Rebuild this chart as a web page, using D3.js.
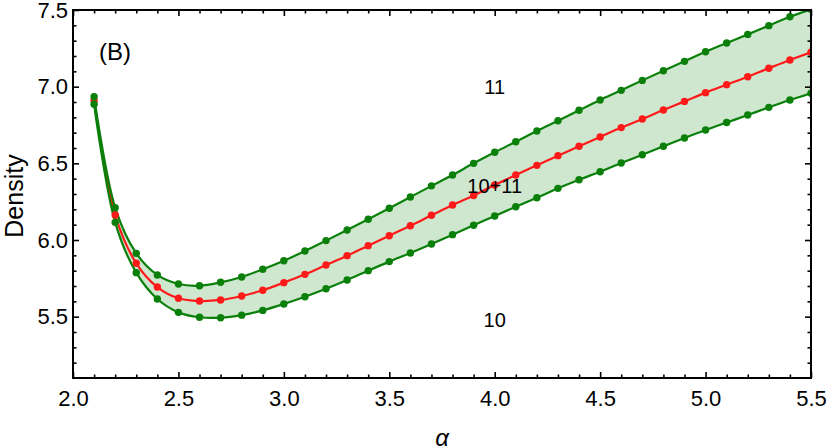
<!DOCTYPE html>
<html>
<head>
<meta charset="utf-8">
<script src="https://cdn.jsdelivr.net/npm/d3@7"></script>
<style>
  body { margin: 0; background: #fff; }
  svg text { font-family: 'Liberation Sans', Arial, sans-serif; fill: #000; }
</style>
</head>
<body>
<div id="chart"></div>
<script>
// alpha values along the x axis
const alpha = [2.1, 2.2, 2.3, 2.4, 2.5, 2.6, 2.7, 2.8, 2.9, 3.0, 3.1, 3.2, 3.3, 3.4, 3.5, 3.6, 3.7, 3.8,
    3.9, 4.0, 4.1, 4.2, 4.3, 4.4, 4.5, 4.6, 4.7, 4.8, 4.9, 5.0, 5.1, 5.2, 5.3, 5.4, 5.5]

// density, upper bound (11)
const density11 = [6.935, 6.211, 5.913, 5.772, 5.713, 5.702, 5.724, 5.759, 5.809, 5.865, 5.928, 5.996,
    6.065, 6.135, 6.207, 6.280, 6.353, 6.424, 6.500, 6.572, 6.641, 6.711, 6.778, 6.846, 6.913, 6.976,
    7.041, 7.104, 7.165, 7.228, 7.285, 7.341, 7.398, 7.456, 7.505]

// density, mixture (10+11)
const density1011 = [6.910, 6.163, 5.848, 5.693, 5.620, 5.602, 5.609, 5.635, 5.672, 5.722, 5.776, 5.837,
    5.898, 5.963, 6.028, 6.093, 6.161, 6.228, 6.290, 6.359, 6.424, 6.487, 6.550, 6.611, 6.672, 6.733,
    6.789, 6.848, 6.904, 6.961, 7.013, 7.065, 7.120, 7.174, 7.224]

// density, lower bound (10)
const density10 = [6.885, 6.115, 5.787, 5.615, 5.528, 5.496, 5.493, 5.510, 5.541, 5.583, 5.630, 5.682,
    5.739, 5.800, 5.859, 5.915, 5.974, 6.035, 6.096, 6.157, 6.217, 6.276, 6.337, 6.393, 6.445, 6.502,
    6.556, 6.611, 6.665, 6.717, 6.766, 6.815, 6.865, 6.913, 6.957]

const xTicks = [2.0, 2.5, 3.0, 3.5, 4.0, 4.5, 5.0, 5.5]
const yTicks = [5.5, 6.0, 6.5, 7.0, 7.5]
const xMinor = [2.1, 2.2, 2.3, 2.4, 2.6, 2.7, 2.8, 2.9, 3.1, 3.2, 3.3, 3.4, 3.6, 3.7, 3.8, 3.9,
    4.1, 4.2, 4.3, 4.4, 4.6, 4.7, 4.8, 4.9, 5.1, 5.2, 5.3, 5.4]
const yMinor = [5.2, 5.3, 5.4, 5.6, 5.7, 5.8, 5.9, 6.1, 6.2, 6.3, 6.4, 6.6, 6.7, 6.8, 6.9, 7.1, 7.2, 7.3, 7.4]

const regionLabels = [
    {text: '11', a: 4.0, d: 7.0},
    {text: '10+11', a: 4.0, d: 6.35},
    {text: '10', a: 4.0, d: 5.48}
]

const width = 830
const height = 448
const margin = {top: 10, right: 19, bottom: 70, left: 73}
const w = width - margin.left - margin.right
const h = height - margin.top - margin.bottom

const green = '#0a800a'
const red = '#ff1a1a'

const svg = d3.select('#chart').append('svg')
    .attr('width', width)
    .attr('height', height)

const x = d3.scaleLinear().domain([2.0, 5.5]).range([0, w])
const y = d3.scaleLinear().domain([5.1, 7.5]).range([h, 0])

svg.append('defs').append('clipPath').attr('id', 'clip')
    .append('rect').attr('width', w).attr('height', h)

const plot = svg.append('g')
    .attr('transform', `translate(${margin.left}, ${margin.top})`)

const data = alpha.map((a, i) => ({a: a, lo: density10[i], mid: density1011[i], hi: density11[i]}))

const body = plot.append('g').attr('clip-path', 'url(#clip)')

const curve = d3.curveCatmullRom.alpha(0.5)

body.append('path')
    .datum(data)
    .attr('fill', '#cfe6cf')
    .attr('d', d3.area().curve(curve).x(d => x(d.a)).y0(d => y(d.lo)).y1(d => y(d.hi)))

const series = [
    {key: 'mid', color: red},
    {key: 'lo', color: green},
    {key: 'hi', color: green}
]

series.forEach(s => {
    body.append('path')
        .datum(data)
        .attr('fill', 'none')
        .attr('stroke', s.color)
        .attr('stroke-width', 2.2)
        .attr('d', d3.line().curve(curve).x(d => x(d.a)).y(d => y(d[s.key])))
})

series.forEach(s => {
    body.selectAll(null)
        .data(data)
        .enter().append('circle')
        .attr('cx', d => x(d.a))
        .attr('cy', d => y(d[s.key]))
        .attr('r', 3.7)
        .attr('fill', s.color)
})

// region labels
plot.selectAll('.region')
    .data(regionLabels)
    .enter().append('text')
    .attr('x', d => x(d.a))
    .attr('y', d => y(d.d))
    .attr('text-anchor', 'middle')
    .attr('dominant-baseline', 'central')
    .attr('font-size', 20)
    .text(d => d.text)

plot.append('text')
    .attr('x', 42)
    .attr('y', 41)
    .attr('text-anchor', 'middle')
    .attr('dominant-baseline', 'central')
    .attr('font-size', 24)
    .text('(B)')

// axes: ticks inward on all four sides, labels on left and bottom only
const major = 6
const minor = 3.5

const axBottom = plot.append('g').attr('transform', `translate(0, ${h})`)
    .call(d3.axisBottom(x).tickValues(xTicks).tickFormat(d3.format('.1f')).tickSizeInner(-major).tickSizeOuter(0).tickPadding(12))
axBottom.append('g').call(d3.axisBottom(x).tickValues(xMinor).tickFormat('').tickSizeInner(-minor).tickSizeOuter(0))

const axTop = plot.append('g')
    .call(d3.axisTop(x).tickValues(xTicks).tickFormat('').tickSizeInner(-major).tickSizeOuter(0))
axTop.append('g').call(d3.axisTop(x).tickValues(xMinor).tickFormat('').tickSizeInner(-minor).tickSizeOuter(0))

const axLeft = plot.append('g')
    .call(d3.axisLeft(y).tickValues(yTicks).tickFormat(d3.format('.1f')).tickSizeInner(-major).tickSizeOuter(0).tickPadding(5))
axLeft.append('g').call(d3.axisLeft(y).tickValues(yMinor).tickFormat('').tickSizeInner(-minor).tickSizeOuter(0))

const axRight = plot.append('g').attr('transform', `translate(${w}, 0)`)
    .call(d3.axisRight(y).tickValues(yTicks).tickFormat('').tickSizeInner(-major).tickSizeOuter(0))
axRight.append('g').call(d3.axisRight(y).tickValues(yMinor).tickFormat('').tickSizeInner(-minor).tickSizeOuter(0))

plot.selectAll('.domain').remove()
plot.selectAll('.tick line').attr('stroke', '#000').attr('stroke-width', 1.6)
plot.selectAll('.tick text')
    .attr('font-family', "'Liberation Sans', Arial, sans-serif")
    .attr('font-size', 22)
    .attr('fill', '#000')

plot.append('rect')
    .attr('width', w)
    .attr('height', h)
    .attr('fill', 'none')
    .attr('stroke', '#000')
    .attr('stroke-width', 2)

svg.append('text')
    .attr('transform', `translate(14, ${margin.top + h / 2 + 2}) rotate(-90)`)
    .attr('text-anchor', 'middle')
    .attr('dominant-baseline', 'central')
    .attr('font-size', 25)
    .text('Density')

svg.append('text')
    .attr('x', margin.left + w / 2)
    .attr('y', 446)
    .attr('text-anchor', 'middle')
    .attr('font-size', 24)
    .attr('font-style', 'italic')
    .text('α')
</script>
</body>
</html>
